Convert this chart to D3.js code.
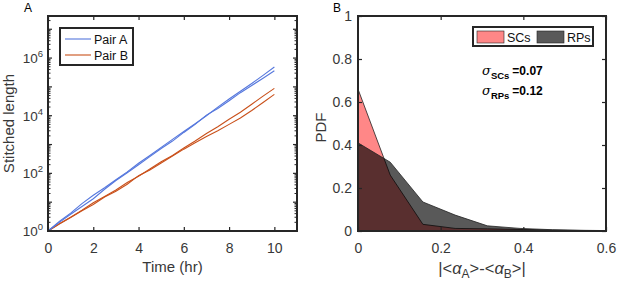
<!DOCTYPE html>
<html>
<head>
<meta charset="utf-8">
<script src="https://cdn.jsdelivr.net/npm/d3@7"></script>
<style>
  body { margin: 0; background: #fff; }
  svg { display: block; font-family: "Liberation Sans", Arial, sans-serif; }
</style>
</head>
<body>
<svg id="chart" width="617" height="286"></svg>
<script>
// panel A: time (hr) and log10 of stitched length, two runs per pair
const timeHr = [0, 0.5, 1, 1.5, 2, 2.5, 3, 3.5, 4, 4.5, 5, 5.5, 6, 6.5, 7, 7.5, 8, 8.5, 9, 9.5, 10];
const pairA1 = [0, 0.33, 0.62, 0.95, 1.24, 1.50, 1.78, 2.05, 2.35, 2.62, 2.90, 3.18, 3.45, 3.72, 4.00, 4.30, 4.58, 4.85, 5.12, 5.40, 5.69];
const pairA2 = [0, 0.30, 0.58, 0.85, 1.12, 1.45, 1.75, 2.02, 2.30, 2.58, 2.86, 3.12, 3.42, 3.70, 4.02, 4.25, 4.52, 4.80, 5.05, 5.30, 5.56];
const pairB1 = [0, 0.25, 0.48, 0.72, 0.98, 1.20, 1.42, 1.68, 1.90, 2.15, 2.40, 2.62, 2.88, 3.12, 3.38, 3.62, 3.88, 4.12, 4.40, 4.68, 4.95];
const pairB2 = [0, 0.24, 0.47, 0.70, 0.92, 1.18, 1.38, 1.62, 1.92, 2.12, 2.36, 2.60, 2.84, 3.06, 3.28, 3.48, 3.70, 3.92, 4.18, 4.46, 4.74];
const timeTicks = [0, 2, 4, 6, 8, 10];
const lengthTicks = [0, 2, 4, 6];

// panel B: PDF of |<aA>-<aB>|
const binCenters = [0, 0.078, 0.157, 0.235, 0.313, 0.392, 0.47, 0.549, 0.6];
const pdfSCs = [0.66, 0.26, 0.031, 0.012, 0.01, 0.007, 0.004, 0.002, 0.001];
const pdfRPs = [0.41, 0.32, 0.135, 0.074, 0.024, 0.012, 0.006, 0.003, 0.002];
const diffTicks = [0, 0.2, 0.4, 0.6];
const pdfTicks = [0, 0.2, 0.4, 0.6, 0.8, 1];

const axisColor = "#262626";
const textColor = "#383838";
const blue = "#5577dd";
const orange = "#c9501a";

const svg = d3.select("#chart");

// ---------- panel A ----------
const a = { left: 48, right: 297, top: 16, bottom: 231 };

const xA = d3.scaleLinear().domain([0, 11]).range([a.left, a.right]);
const yA = d3.scaleLog().domain([1, Math.pow(10, 7.46)]).range([a.bottom, a.top]);

const line = d3.line()
  .x((d) => xA(d[0]))
  .y((d) => yA(d[1]));

const runs = [
  { vals: pairB1, color: orange },
  { vals: pairB2, color: orange },
  { vals: pairA1, color: blue },
  { vals: pairA2, color: blue },
];

svg.append("g")
  .selectAll("path")
  .data(runs)
  .enter()
  .append("path")
  .attr("d", (r) => line(timeHr.map((t, i) => [t, Math.pow(10, r.vals[i])])))
  .attr("fill", "none")
  .attr("stroke", (r) => r.color)
  .attr("stroke-width", 1.1);

function frame(x0, x1, y0, y1) {
  svg.append("rect")
    .attr("x", x0).attr("y", y0)
    .attr("width", x1 - x0).attr("height", y1 - y0)
    .attr("fill", "none")
    .attr("stroke", axisColor)
    .attr("stroke-width", 2);
}

function styleAxis(g) {
  g.select(".domain").remove();
  g.selectAll(".tick line").attr("stroke", axisColor).attr("stroke-width", 1.2);
  g.selectAll("text").attr("fill", textColor).style("font-size", "14px");
}

// x axis A
svg.append("g")
  .attr("transform", `translate(0,${a.bottom})`)
  .call(d3.axisBottom(xA).tickValues(timeTicks).tickSizeInner(-4).tickSizeOuter(0).tickPadding(12))
  .call(styleAxis);
svg.append("g")
  .attr("transform", `translate(0,${a.top})`)
  .call(d3.axisTop(xA).tickValues(timeTicks).tickSizeInner(-4).tickSizeOuter(0).tickFormat(""))
  .call(styleAxis);

// y axis A: minor ticks then major labels
const minorVals = [];
for (let e = 0; e < 8; e++) {
  for (let m = 2; m <= 9; m++) {
    const v = m * Math.pow(10, e);
    if (v < yA.domain()[1]) minorVals.push(v);
  }
}
[[a.left, 1], [a.right, -1]].forEach(([xp, dir]) => {
  svg.append("g")
    .selectAll("line")
    .data(minorVals)
    .enter()
    .append("line")
    .attr("x1", xp).attr("x2", xp + dir * 2.5)
    .attr("y1", (d) => yA(d)).attr("y2", (d) => yA(d))
    .attr("stroke", axisColor).attr("stroke-width", 1);
  svg.append("g")
    .selectAll("line")
    .data(d3.range(0, 8).map((e) => Math.pow(10, e)))
    .enter()
    .append("line")
    .attr("x1", xp).attr("x2", xp + dir * 4)
    .attr("y1", (d) => yA(d)).attr("y2", (d) => yA(d))
    .attr("stroke", axisColor).attr("stroke-width", 1.2);
});

const yLab = svg.append("g")
  .selectAll("text")
  .data(lengthTicks)
  .enter()
  .append("text")
  .attr("x", a.left - 5)
  .attr("y", (d) => yA(Math.pow(10, d)) + 5)
  .attr("text-anchor", "end")
  .attr("fill", textColor)
  .style("font-size", "13.5px");
yLab.append("tspan").text("10");
yLab.append("tspan").attr("dy", -6).style("font-size", "9.5px").text((d) => d);

frame(a.left, a.right, a.top, a.bottom);

svg.append("text")
  .attr("x", (a.left + a.right) / 2).attr("y", 272)
  .attr("text-anchor", "middle").attr("fill", textColor)
  .style("font-size", "15px")
  .text("Time (hr)");
svg.append("text")
  .attr("transform", `translate(14,${(a.top + a.bottom) / 2}) rotate(-90)`)
  .attr("text-anchor", "middle").attr("fill", textColor)
  .style("font-size", "15px")
  .text("Stitched length");
svg.append("text")
  .attr("x", 24).attr("y", 12)
  .attr("fill", "#000").style("font-size", "12px")
  .text("A");

// legend A
const legA = svg.append("g").attr("transform", "translate(60,28)");
legA.append("rect")
  .attr("width", 73).attr("height", 37)
  .attr("fill", "#fff").attr("stroke", axisColor).attr("stroke-width", 2);
[["Pair A", blue], ["Pair B", orange]].forEach(([name, c], i) => {
  const yy = 11 + i * 16;
  legA.append("line")
    .attr("x1", 5).attr("x2", 31).attr("y1", yy).attr("y2", yy)
    .attr("stroke", c).attr("stroke-width", 1.1);
  legA.append("text")
    .attr("x", 34).attr("y", yy + 4.5)
    .attr("fill", "#111").style("font-size", "12.5px")
    .text(name);
});

// ---------- panel B ----------
const b = { left: 358, right: 606, top: 16, bottom: 231 };

const xB = d3.scaleLinear().domain([0, 0.6]).range([b.left, b.right]);
const yB = d3.scaleLinear().domain([0, 1]).range([b.bottom, b.top]);

const area = d3.area()
  .x((d) => xB(d[0]))
  .y0(yB(0))
  .y1((d) => yB(d[1]));

svg.append("path")
  .attr("d", area(binCenters.map((x, i) => [x, pdfSCs[i]])))
  .attr("fill", "#ff0000").attr("fill-opacity", 0.47)
  .attr("stroke", "#222").attr("stroke-width", 0.8);
svg.append("path")
  .attr("d", area(binCenters.map((x, i) => [x, pdfRPs[i]])))
  .attr("fill", "#000").attr("fill-opacity", 0.65)
  .attr("stroke", "#222").attr("stroke-width", 0.8);

svg.append("g")
  .attr("transform", `translate(0,${b.bottom})`)
  .call(d3.axisBottom(xB).tickValues(diffTicks).tickFormat(d3.format("")).tickSizeInner(-4).tickSizeOuter(0).tickPadding(12))
  .call(styleAxis);
svg.append("g")
  .attr("transform", `translate(0,${b.top})`)
  .call(d3.axisTop(xB).tickValues(diffTicks).tickSizeInner(-4).tickSizeOuter(0).tickFormat(""))
  .call(styleAxis);
svg.append("g")
  .attr("transform", `translate(${b.left},0)`)
  .call(d3.axisLeft(yB).tickValues(pdfTicks).tickFormat(d3.format("")).tickSizeInner(-4).tickSizeOuter(0).tickPadding(6))
  .call(styleAxis);
svg.append("g")
  .attr("transform", `translate(${b.right},0)`)
  .call(d3.axisRight(yB).tickValues(pdfTicks).tickSizeInner(-4).tickSizeOuter(0).tickFormat(""))
  .call(styleAxis);

frame(b.left, b.right, b.top, b.bottom);

svg.append("text")
  .attr("x", 333).attr("y", 12)
  .attr("fill", "#000").style("font-size", "12px")
  .text("B");
svg.append("text")
  .attr("transform", `translate(326,${(b.top + b.bottom) / 2 + 4}) rotate(-90)`)
  .attr("text-anchor", "middle").attr("fill", textColor)
  .style("font-size", "15px")
  .text("PDF");

const xLabB = svg.append("text")
  .attr("x", (b.left + b.right) / 2).attr("y", 274)
  .attr("text-anchor", "middle").attr("fill", textColor)
  .style("font-size", "16.5px");
xLabB.append("tspan").text("|<");
xLabB.append("tspan").style("font-style", "italic").text("α");
xLabB.append("tspan").attr("dy", 4).style("font-size", "12px").text("A");
xLabB.append("tspan").attr("dy", -4).text(">-<");
xLabB.append("tspan").style("font-style", "italic").text("α");
xLabB.append("tspan").attr("dy", 4).style("font-size", "12px").text("B");
xLabB.append("tspan").attr("dy", -4).text(">|");

// sigma annotations
[["SCs", "=0.07", 75], ["RPs", "=0.12", 95]].forEach(([name, val, yy]) => {
  const t = svg.append("text")
    .attr("x", 482).attr("y", yy)
    .attr("fill", "#000").style("font-size", "12px").style("font-weight", "bold");
  t.append("tspan").style("font-family", "'DejaVu Serif', serif").style("font-style", "italic").style("font-weight", "normal").style("font-size", "13px").text("σ");
  t.append("tspan").attr("dy", 3.5).style("font-size", "9.5px").text(name);
  t.append("tspan").attr("dy", -3.5).attr("dx", 3).text(val);
});

// legend B
const legB = svg.append("g").attr("transform", "translate(473,27)");
legB.append("rect")
  .attr("width", 120).attr("height", 19)
  .attr("fill", "#fff").attr("stroke", axisColor).attr("stroke-width", 2);
[["SCs", "#ff8787", 4], ["RPs", "#595959", 64]].forEach(([name, c, xx]) => {
  legB.append("rect")
    .attr("x", xx).attr("y", 4).attr("width", 27).attr("height", 12)
    .attr("fill", c).attr("stroke", "#222").attr("stroke-width", 0.6);
  legB.append("text")
    .attr("x", xx + 30).attr("y", 14.5)
    .attr("fill", "#111").style("font-size", "12.5px")
    .text(name);
});
</script>
</body>
</html>
